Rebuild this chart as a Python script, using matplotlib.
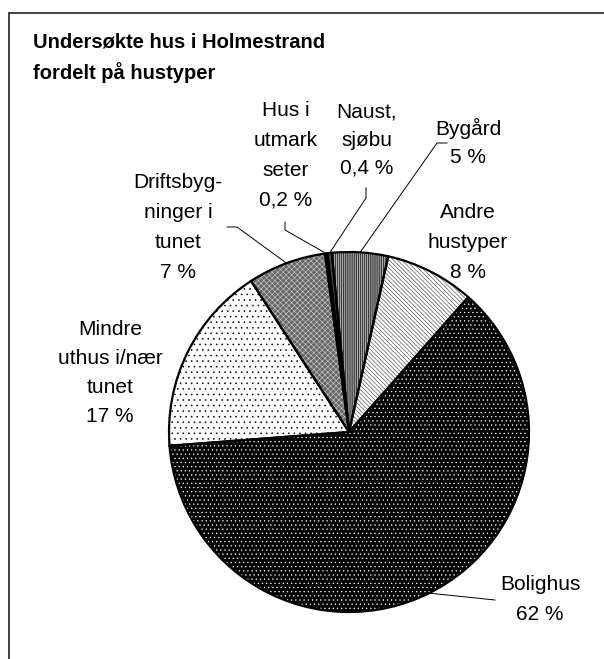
import matplotlib
matplotlib.use("Agg")
import matplotlib.pyplot as plt
from matplotlib.patches import Wedge
import numpy as np

# ---- data ----
categories = ["Bolighus", "Mindre\nuthus i/nær\ntunet", "Driftsbyg-\nninger i\ntunet",
              "Hus i\nutmark\nseter", "Naust,\nsjøbu", "Bygård", "Andre\nhustyper"]
values = [62, 17, 7, 0.2, 0.4, 5, 8]
pct_labels = ["62 %", "17 %", "7 %", "0,2 %", "0,4 %", "5 %", "8 %"]
title_lines = ["Undersøkte hus i Holmestrand", "fordelt på hustyper"]

plt.rcParams['font.family'] = ['Liberation Sans', 'DejaVu Sans']
plt.rcParams['hatch.linewidth'] = 0.4

W, H = 604, 659
fig = plt.figure(figsize=(W / 100, H / 100), dpi=100)
ax = fig.add_axes([0, 0, 1, 1])


def py(y):
    return H - y


cx, cy, R = 349, 432, 180

fills = [
    dict(fc='#000000', hatch='....', hc='white'),
    dict(fc='white', hatch='...', hc='black'),
    dict(fc='#666666', hatch='xxxxxx', hc='#d0d0d0'),
    dict(fc='black', hatch=None, hc='black'),
    dict(fc='#404040', hatch=None, hc='black'),
    dict(fc='#3c3c3c', hatch='||||||||', hc='white'),
    dict(fc='white', hatch='\\\\\\\\\\\\\\\\', hc='#383838'),
]

wedges, _ = ax.pie(values, startangle=48.5, counterclock=False,
                   center=(cx, py(cy)), radius=R,
                   wedgeprops=dict(linewidth=0))
for w, f in zip(wedges, fills):
    w.set_facecolor(f['fc'])
    w.set_edgecolor(f['hc'])
    w.set_linewidth(0)
    if f['hatch']:
        w.set_hatch(f['hatch'])
    ax.add_patch(Wedge(w.center, w.r, w.theta1, w.theta2, facecolor='none',
                       edgecolor='black', linewidth=1.6, zorder=3))

# ---- labels (first baseline in px, line step in px) ----
label_pos = [
    (540, 590, 30),   # Bolighus
    (110, 335, 29),   # Mindre uthus
    (178, 188, 30),   # Driftsbygninger
    (286, 116, 30),   # Hus i utmark
    (367, 118, 28),   # Naust
    (468, 135, 28),   # Bygård
    (468, 218, 30),   # Andre hustyper
]
for cat, pct, (lx, ly, step) in zip(categories, pct_labels, label_pos):
    lines = cat.split("\n") + [pct]
    for i, line in enumerate(lines):
        ax.text(lx, py(ly + i * step), line, ha='center', va='baseline',
                fontsize=15, color='black', zorder=5)

# ---- leader lines: bend points in px, end at wedge mid on the rim ----
leaders = {
    0: [(495, 600)],
    2: [(227, 227), (237, 227)],
    3: [(285, 222), (285, 230)],
    4: [(366, 188), (366, 198)],
    5: [(447, 143), (437, 143)],
}
for idx, pts in leaders.items():
    w = wedges[idx]
    th = np.deg2rad((w.theta1 + w.theta2) / 2)
    ex = w.center[0] + w.r * np.cos(th)
    ey = w.center[1] + w.r * np.sin(th)
    xs = [p[0] for p in pts] + [ex]
    ys = [py(p[1]) for p in pts] + [ey]
    ax.plot(xs, ys, color='black', linewidth=0.7, zorder=4)

# ---- title ----
ax.text(33, py(47), title_lines[0], ha='left', va='baseline', fontsize=14.5,
        fontweight='bold')
ax.text(33, py(79), title_lines[1], ha='left', va='baseline', fontsize=14.5,
        fontweight='bold')

# ---- frame ----
ax.plot([9, 9, 700], [py(800), py(13), py(13)], color='#404040', linewidth=1.4,
        solid_joinstyle='miter')

ax.set_xlim(0, W)
ax.set_ylim(0, H)
ax.set_aspect('equal')
ax.axis('off')

fig.savefig("out.png", dpi=100, facecolor='white')
